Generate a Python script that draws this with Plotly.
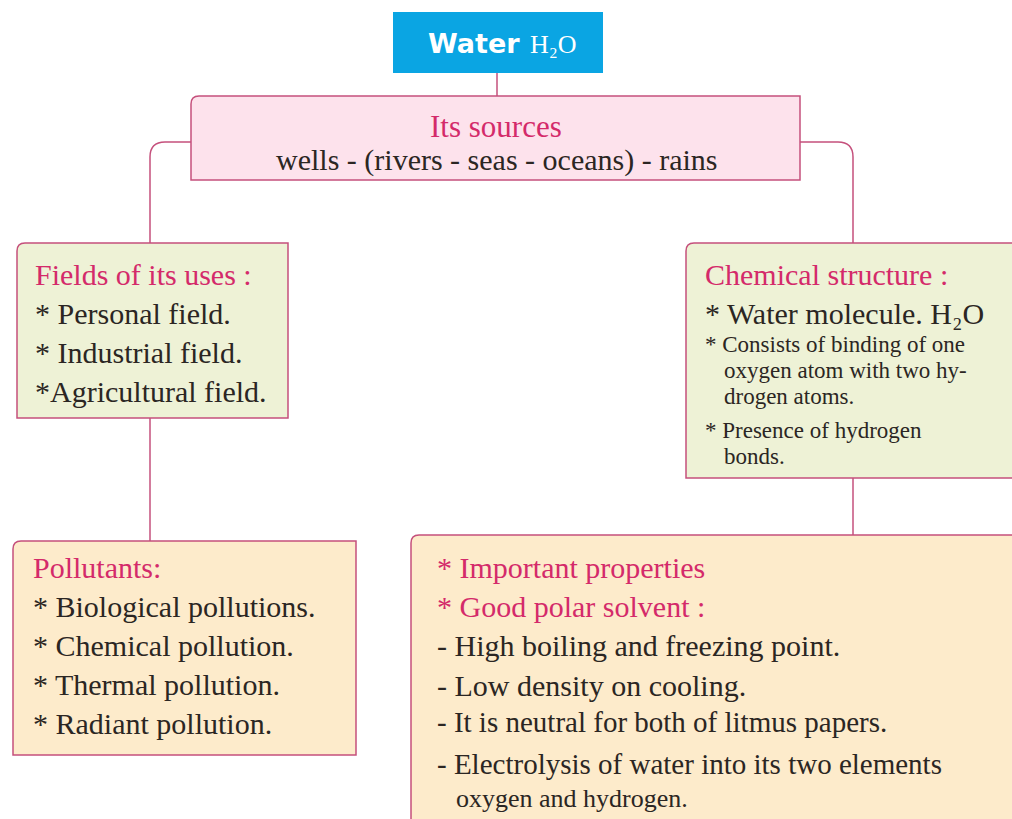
import plotly.graph_objects as go

# ---- text content ----
title_main = "Water"
title_formula = "H₂O"
sources_head = "Its sources"
sources_body = "wells - (rivers - seas - oceans) - rains"
uses_head = "Fields of its uses :"
uses_items = ["* Personal field.", "* Industrial field.", "*Agricultural field."]
chem_head = "Chemical structure :"
chem_items = ["* Water molecule. H₂O", "* Consists of binding of one",
              "oxygen atom with two hy-", "drogen atoms.",
              "* Presence of hydrogen", "bonds."]
poll_head = "Pollutants:"
poll_items = ["* Biological pollutions.", "* Chemical pollution.",
              "* Thermal pollution.", "* Radiant pollution."]
prop_heads = ["* Important properties", "* Good polar solvent :"]
prop_items = ["- High boiling and freezing point.", "- Low density on cooling.",
              "- It is neutral for both of litmus papers.",
              "- Electrolysis of water into its two elements",
              "oxygen and hydrogen."]

W, H = 1012, 819
LINE = "#c5507c"
HEAD = "#d42a6a"
BODY = "#2b2623"
SERIF = "Liberation Serif"
FS = 30

fig = go.Figure()
shapes = []
annotations = []


def box(x0, y0, x1, y1, fill, line=LINE, r=8, width=1.5):
    path = (f"M {x0},{y0 + r} Q {x0},{y0} {x0 + r},{y0} L {x1},{y0} "
            f"L {x1},{y1} L {x0},{y1} Z")
    shapes.append(dict(type="path", path=path, fillcolor=fill,
                       line=dict(color=line, width=width), layer="below"))


def text(x, y, s, color=BODY, size=FS, anchor="left", family=SERIF):
    annotations.append(dict(x=x, y=y, text=s, showarrow=False, xanchor=anchor,
                            yanchor="middle", font=dict(family=family, size=size, color=color)))


def conn(path):
    shapes.append(dict(type="path", path=path, line=dict(color=LINE, width=1.5), layer="below"))


# connectors
conn("M 497,73 L 497,96")
conn("M 191,142 L 165,142 Q 150,142 150,157 L 150,243")
conn("M 800,142 L 838,142 Q 853,142 853,157 L 853,243")
conn("M 150,418 L 150,541")
conn("M 853,478 L 853,535")

# boxes
shapes.append(dict(type="rect", x0=393, y0=12, x1=603, y1=73, fillcolor="#0aa5e3",
                   line=dict(width=0), layer="below"))
box(191, 96, 800, 180, "#fde2ec")
box(17, 243, 288, 418, "#eef2d6")
box(686, 243, 1014, 478, "#eef2d6")
box(13, 541, 356, 755, "#fdebcb")
box(411, 535, 1014, 822, "#fdebcb")

# title: two parts (bold sans word + serif formula)
annotations.append(dict(x=522, y=43, showarrow=False, xanchor="right", yanchor="middle",
                        text=f"<b>{title_main}</b>",
                        font=dict(family="DejaVu Sans", size=27, color="white")))
annotations.append(dict(x=528, y=44, showarrow=False, xanchor="left", yanchor="middle",
                        text=title_formula,
                        font=dict(family=SERIF, size=26, color="white")))

# sources
text(496, 126, sources_head, HEAD, 31, "center")
text(497, 160, sources_body, BODY, 30, "center")

# uses
text(33, 274, uses_head, HEAD, 30)
for i, s in enumerate(uses_items):
    text(33, 313 + 39 * i, s, BODY, 30)

# chemical
text(703, 274, chem_head, HEAD, 30)
text(703, 313, chem_items[0], BODY, 30)
chem_y = [344, 370, 396, 430, 456]
for s, y in zip(chem_items[1:], chem_y):
    x = 703 if s.startswith("*") else 722
    text(x, y, s, BODY, 23)

# pollutants
text(31, 567, poll_head, HEAD, 30)
for i, s in enumerate(poll_items):
    text(31, 606 + 39 * i, s, BODY, 30)

# properties
for i, s in enumerate(prop_heads):
    text(435, 567 + 39 * i, s, HEAD, 30)
prop_y = [645, 685, 722, 764, 798]
prop_sz = [30, 30, 29, 29, 26]
for s, y, sz in zip(prop_items, prop_y, prop_sz):
    x = 435 if s.startswith("-") else 454
    text(x, y, s, BODY, sz)

fig.update_layout(
    width=W, height=H, margin=dict(l=0, r=0, t=0, b=0),
    paper_bgcolor="white", plot_bgcolor="white",
    xaxis=dict(range=[0, W], visible=False, fixedrange=True),
    yaxis=dict(range=[H, 0], visible=False, fixedrange=True),
    shapes=shapes, annotations=annotations, showlegend=False,
)
fig.write_html("out.html", config={"displayModeBar": False},
               post_script="document.body.style.margin='0';")
